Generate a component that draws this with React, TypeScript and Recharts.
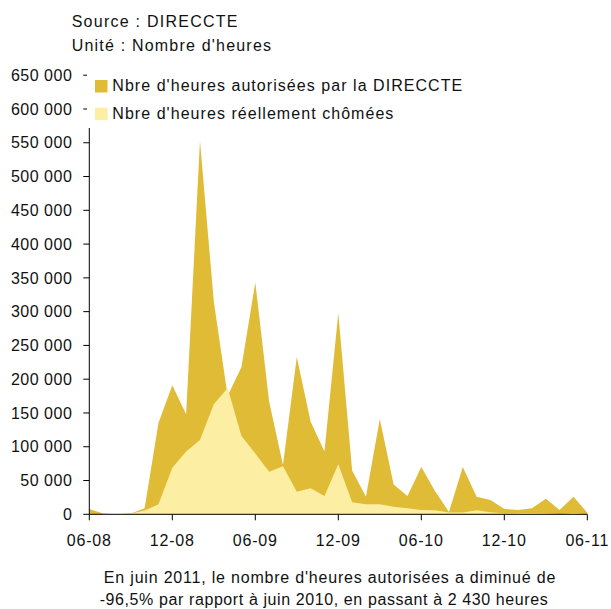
import React from 'react';
import { AreaChart, Area, XAxis, YAxis, Legend } from 'recharts';

const months = [
  '06-08','07-08','08-08','09-08','10-08','11-08','12-08',
  '01-09','02-09','03-09','04-09','05-09','06-09',
  '07-09','08-09','09-09','10-09','11-09','12-09',
  '01-10','02-10','03-10','04-10','05-10','06-10',
  '07-10','08-10','09-10','10-10','11-10','12-10',
  '01-11','02-11','03-11','04-11','05-11','06-11',
];

const heuresAutorisees = [
  8000, 1000, 0, 1000, 9000, 135000, 191000,
  148000, 553000, 315000, 175000, 218000, 343000,
  167000, 73000, 233000, 137000, 93000, 298000,
  65000, 26000, 141000, 44000, 27000, 70000,
  34000, 3500, 70000, 26000, 21000, 8000,
  6500, 9000, 23000, 6500, 26000, 2430,
];

const heuresChomees = [
  0, 0, 0, 1000, 5500, 15000, 69000,
  93000, 110000, 163000, 187000, 116000, 90000,
  63000, 71000, 33500, 38500, 27000, 74000,
  18000, 15000, 15000, 11000, 9000, 6500,
  6000, 2500, 2500, 6000, 3000, 1500,
  2000, 2000, 1500, 500, 2000, 0,
];

const yTicks = [0, 50000, 100000, 150000, 200000, 250000, 300000, 350000, 400000, 450000, 500000, 550000, 600000, 650000];

const seriesNames = ["Nbre d'heures autorisées par la DIRECCTE", "Nbre d'heures réellement chômées"];
const sourceText = 'Source : DIRECCTE';
const unitText = "Unité : Nombre d'heures";
const captionLines = [
  "En juin 2011, le nombre d'heures autorisées a diminué de",
  '-96,5% par rapport à juin 2010, en passant à 2 430 heures',
];

const DARK = '#E0BB36';
const LIGHT = '#FCEEA2';
const FONT = '"Liberation Sans", Arial, sans-serif';

const data = months.map((m, i) => ({
  month: m,
  autorisees: heuresAutorisees[i],
  chomees: heuresChomees[i],
}));

const fmt = (v: number) => (v === 0 ? '0' : String(v).replace(/\B(?=(\d{3})+(?!\d))/g, ' '));

const LegendBox = () => (
  <svg width={390} height={66} style={{ display: 'block' }}>
    <rect x={8} y={18} width={12.5} height={12.5} fill={DARK} />
    <text x={25.3} y={28.7} fontSize={16} fontFamily={FONT} letterSpacing={1.05} fill="#111">{seriesNames[0]}</text>
    <rect x={8} y={45.7} width={12.5} height={12.5} fill={LIGHT} />
    <text x={25.3} y={57} fontSize={16} fontFamily={FONT} letterSpacing={1.05} fill="#111">{seriesNames[1]}</text>
  </svg>
);

export default function App() {
  return (
    <div style={{ position: 'absolute', left: 0, top: 0, width: 611, height: 609, background: '#fff' }}>
      <AreaChart
        width={611}
        height={609}
        data={data}
        margin={{ top: 75.2, right: 23.7, left: 9.3, bottom: 64.7 }}
      >
        <XAxis
          dataKey="month"
          interval={5}
          tickSize={6}
          tickMargin={14}
          axisLine={{ stroke: '#000' }}
          tickLine={{ stroke: '#000' }}
          tick={{ fontSize: 16, fill: '#111', fontFamily: FONT, letterSpacing: 0.8 }}
          height={30}
        />
        <YAxis
          type="number"
          domain={[0, 650000]}
          ticks={yTicks}
          interval={0}
          tickFormatter={fmt}
          width={80}
          tickSize={6}
          tickMargin={11}
          axisLine={{ stroke: '#000' }}
          tickLine={{ stroke: '#000' }}
          tick={{ fontSize: 16, fill: '#111', fontFamily: FONT, letterSpacing: 0.5 }}
        />
        <Area
          type="linear"
          dataKey="autorisees"
          name={seriesNames[0]}
          stroke="none"
          fill={DARK}
          fillOpacity={1}
          isAnimationActive={false}
        />
        <Area
          type="linear"
          dataKey="chomees"
          name={seriesNames[1]}
          stroke="none"
          fill={LIGHT}
          fillOpacity={1}
          isAnimationActive={false}
        />
        <Legend
          layout="horizontal"
          verticalAlign="middle"
          align="center"
          content={() => <LegendBox />}
          wrapperStyle={{ position: 'absolute', left: 87, top: 62, width: 390, height: 66, background: '#fff' }}
        />
      </AreaChart>
      <svg width={611} height={609} style={{ position: 'absolute', left: 0, top: 0, pointerEvents: 'none' }}>
        <text x={71.7} y={26.7} fontSize={16} fontFamily={FONT} letterSpacing={1.25} fill="#111">{sourceText}</text>
        <text x={71.7} y={50.7} fontSize={16} fontFamily={FONT} letterSpacing={1.2} fill="#111">{unitText}</text>
        <text x={330} y={583.3} textAnchor="middle" fontSize={16} fontFamily={FONT} letterSpacing={0.8} fill="#111">{captionLines[0]}</text>
        <text x={324} y={605} textAnchor="middle" fontSize={16} fontFamily={FONT} letterSpacing={0.6} fill="#111">{captionLines[1]}</text>
      </svg>
    </div>
  );
}
